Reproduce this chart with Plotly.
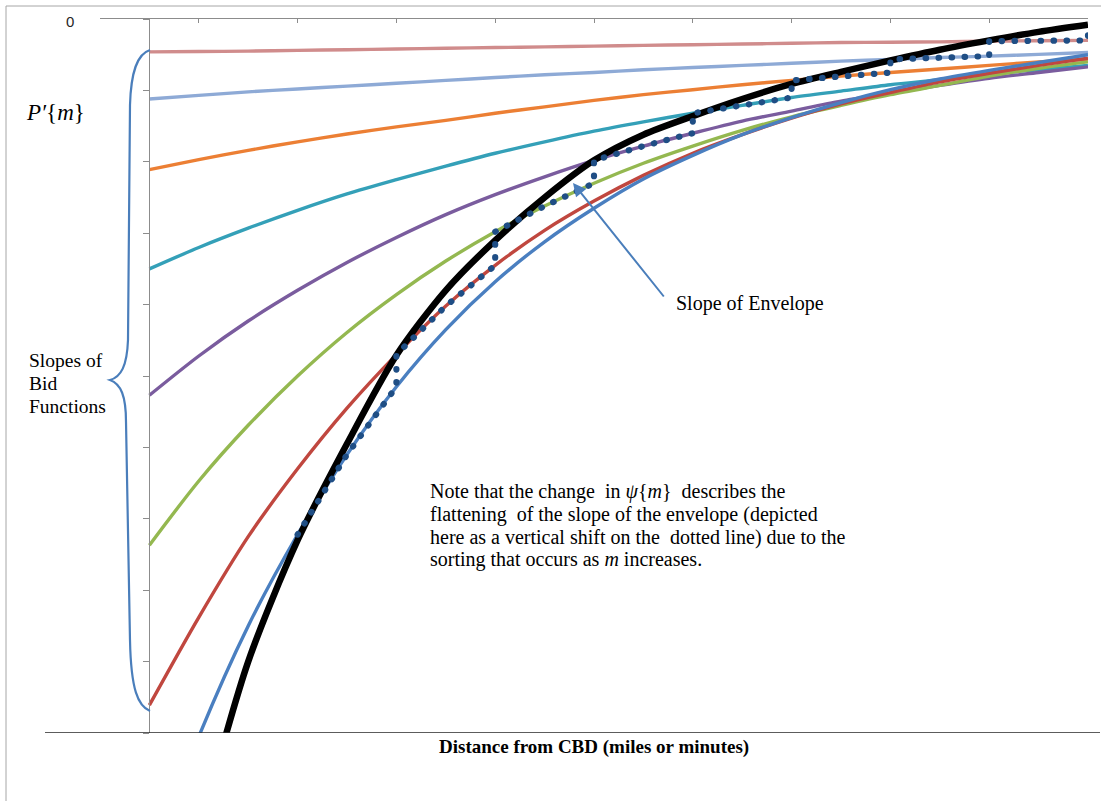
import plotly.graph_objects as go

# Distance from the CBD, sampled every half unit
distance = [0.5, 1.0, 1.5, 2.0, 2.5, 3.0, 3.5, 4.0, 4.5, 5.0,
            5.5, 6.0, 6.5, 7.0, 7.5, 8.0, 8.5, 9.0, 9.5, 10.0]

# Slopes of the bid functions P'{m}, one list per household type
slope_pink = [-0.46, -0.455, -0.45, -0.44, -0.43, -0.42, -0.41, -0.40, -0.39, -0.38,
              -0.37, -0.36, -0.35, -0.34, -0.33, -0.325, -0.32, -0.31, -0.305, -0.30]
slope_lightblue = [-1.12, -1.07, -1.02, -0.98, -0.94, -0.90, -0.86, -0.82, -0.78, -0.75,
                   -0.71, -0.68, -0.65, -0.62, -0.59, -0.565, -0.54, -0.52, -0.495, -0.47]
slope_orange = [-2.11, -1.97, -1.84, -1.72, -1.61, -1.51, -1.42, -1.32, -1.23, -1.14,
                -1.06, -0.99, -0.92, -0.86, -0.80, -0.75, -0.70, -0.65, -0.60, -0.56]
slope_teal = [-3.50, -3.20, -2.93, -2.68, -2.45, -2.25, -2.06, -1.88, -1.72, -1.57,
              -1.44, -1.32, -1.21, -1.10, -1.01, -0.92, -0.85, -0.77, -0.71, -0.65]
slope_purple = [-5.27, -4.72, -4.23, -3.80, -3.41, -3.06, -2.74, -2.46, -2.21, -1.98,
                -1.78, -1.60, -1.43, -1.29, -1.15, -1.04, -0.93, -0.83, -0.75, -0.67]
slope_green = [-7.37, -6.47, -5.69, -5.00, -4.39, -3.86, -3.39, -2.98, -2.62, -2.30,
               -2.02, -1.78, -1.56, -1.37, -1.21, -1.06, -0.93, -0.80, -0.69, -0.60]
slope_red = [-9.61, -8.38, -7.25, -6.30, -5.45, -4.70, -4.02, -3.45, -2.96, -2.55,
             -2.19, -1.88, -1.62, -1.39, -1.19, -1.03, -0.88, -0.76, -0.65, -0.55]
slope_blue = [-11.9, -10.05, -8.50, -7.22, -6.10, -5.15, -4.35, -3.68, -3.12, -2.65,
              -2.24, -1.91, -1.62, -1.38, -1.17, -0.99, -0.84, -0.72, -0.61, -0.50]

# Slope of the envelope
slope_envelope = [None, -11.4, -9.0, -7.3, -5.95, -4.71, -3.80, -3.10, -2.50, -1.98,
                  -1.62, -1.36, -1.12, -0.91, -0.74, -0.58, -0.43, -0.30, -0.18, -0.08]

bid_series = [
    (slope_pink, "#d08c8c"),
    (slope_lightblue, "#8eaad6"),
    (slope_orange, "#ec7f34"),
    (slope_teal, "#34a0b8"),
    (slope_purple, "#7a5c9e"),
    (slope_green, "#94b850"),
    (slope_red, "#c0473f"),
    (slope_blue, "#4a7fc0"),
]

# Each unit-wide zone beyond distance 2 is occupied by one household type,
# from the steepest (nearest the centre) to the flattest (outermost).
zone_order = [slope_blue, slope_red, slope_green, slope_purple,
              slope_teal, slope_orange, slope_lightblue, slope_pink]

step_x, step_y = [], []
for k, series in enumerate(zone_order):
    lo = distance.index(2.0 + k)
    hi = distance.index(3.0 + k)
    step_x += distance[lo:hi + 1]
    step_y += series[lo:hi + 1]
step_x.append(distance[-1])
step_y.append(slope_envelope[-1])

fig = go.Figure()
for values, colour in bid_series:
    fig.add_trace(go.Scatter(x=distance, y=values, mode="lines",
                             line=dict(color=colour, width=3.4, shape="spline", smoothing=0.8),
                             hoverinfo="skip"))
fig.add_trace(go.Scatter(x=distance, y=slope_envelope, mode="lines",
                         line=dict(color="#000000", width=6.5, shape="spline", smoothing=0.8),
                         hoverinfo="skip"))
fig.add_trace(go.Scatter(x=step_x, y=step_y, mode="lines",
                         line=dict(color="#1f4e85", width=6.2, dash="0.5px,12.5px"),
                         hoverinfo="skip"))

# plot area runs from (100, 19) to (1088, 733) in page pixels
L, R, T, B = 100, 1088, 19, 733
W, H = 1101, 801


def px(x):
    return (x - L) / (R - L)


def py(y):
    return (B - y) / (B - T)


def path(points):
    cmds = []
    for item in points:
        cmd, coords = item[0], item[1:]
        parts = []
        for i in range(0, len(coords), 2):
            parts.append(f"{px(coords[i]):.5f},{py(coords[i + 1]):.5f}")
        cmds.append(cmd + " ".join(parts))
    return " ".join(cmds)


brace = path([
    ("M", 150, 50),
    ("C", 137, 54, 131, 72, 130, 105),
    ("L", 128, 340),
    ("C", 127, 366, 121, 377, 110, 380),
    ("C", 121, 384, 126, 396, 126, 422),
    ("L", 130, 640),
    ("C", 131, 690, 138, 706, 150, 711),
])

shapes = [
    # outer frame (top and left edges)
    dict(type="line", xref="paper", yref="paper", x0=px(6), x1=px(1101), y0=py(6), y1=py(6),
         line=dict(color="#a6a6a6", width=1)),
    dict(type="line", xref="paper", yref="paper", x0=px(6), x1=px(6), y0=py(6), y1=py(801),
         line=dict(color="#a6a6a6", width=1)),
    # distance axis drawn along the bottom
    dict(type="line", xref="paper", yref="y", x0=px(45), x1=px(1100), y0=-10, y1=-10,
         line=dict(color="#262626", width=1.5)),
    # curly brace grouping the bid-function slopes
    dict(type="path", xref="paper", yref="paper", path=brace,
         line=dict(color="#4a7ebb", width=2.2)),
]

serif = "Liberation Serif"
note_lines = [
    "Note that the change  in <i>ψ</i>{<i>m</i>}  describes the",
    "flattening  of the slope of the envelope (depicted",
    "here as a vertical shift on the  dotted line) due to the",
    "sorting that occurs as <i>m</i> increases.",
]
note_y = [491, 514, 537, 559]

annotations = [
    dict(x=px(70), y=py(22), text="0", showarrow=False, xanchor="center", yanchor="middle",
         font=dict(family="Liberation Sans", size=15, color="#262626")),
    dict(x=px(24), y=py(113), text="<i>P′</i>{<i>m</i>}", showarrow=False,
         xanchor="left", yanchor="middle", font=dict(family=serif, size=23, color="#000")),
    dict(x=px(573), y=py(183), text="", showarrow=True, ax=92, ay=115,
         arrowhead=2, arrowsize=1.3, arrowwidth=2, arrowcolor="#4a7ebb"),
    dict(x=px(674), y=py(303), text="Slope of Envelope", showarrow=False,
         xanchor="left", yanchor="middle", font=dict(family=serif, size=20, color="#000")),
    dict(x=px(594), y=py(747), text="<b>Distance from CBD (miles or minutes)</b>", showarrow=False,
         xanchor="center", yanchor="middle", font=dict(family=serif, size=19, color="#000")),
]
for txt, yy in zip(["Slopes of", "Bid", "Functions"], [360, 383, 406]):
    annotations.append(dict(x=px(27), y=py(yy), text=txt, showarrow=False,
                            xanchor="left", yanchor="middle",
                            font=dict(family=serif, size=19.5, color="#000")))
for txt, yy in zip(note_lines, note_y):
    annotations.append(dict(x=px(428), y=py(yy), text=txt, showarrow=False,
                            xanchor="left", yanchor="middle",
                            font=dict(family=serif, size=20, color="#000")))
for a in annotations:
    a.setdefault("xref", "paper")
    a.setdefault("yref", "paper")

fig.update_layout(
    width=W, height=H,
    margin=dict(l=L, r=W - R, t=T, b=H - B, pad=0),
    paper_bgcolor="white", plot_bgcolor="white",
    showlegend=False,
    xaxis=dict(range=[0, 10], side="top", showline=True, linecolor="#8c8c8c", linewidth=1,
               ticks="inside", ticklen=4, tickcolor="#8c8c8c", tick0=0, dtick=1,
               showticklabels=False, showgrid=False, zeroline=False, fixedrange=True),
    yaxis=dict(range=[-10, 0], anchor="free", position=0.05, showline=True,
               linecolor="#8c8c8c", linewidth=1, ticks="outside", ticklen=6,
               tickcolor="#8c8c8c", tick0=0, dtick=1, showticklabels=False,
               showgrid=False, zeroline=False, fixedrange=True),
    shapes=shapes,
    annotations=annotations,
)

# round line caps turn the short dashes of the envelope-step trace into dots
round_dots = """
document.querySelectorAll('.scatterlayer .trace:last-child path.js-line')
    .forEach(function (p) { p.style.strokeLinecap = 'round'; });
"""

fig.write_html("out.html", post_script=round_dots)
